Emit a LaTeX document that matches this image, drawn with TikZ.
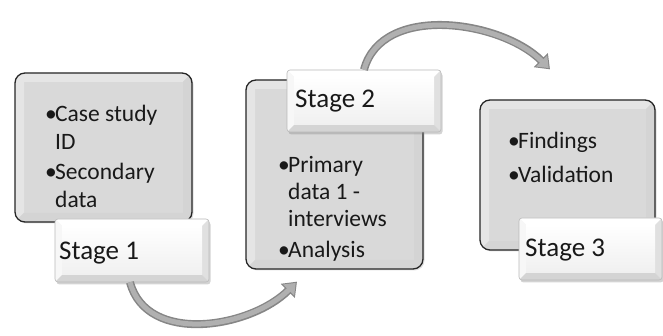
\documentclass[tikz,border=0pt]{standalone}
\usepackage{fontspec}
\setmainfont{Carlito}
\usetikzlibrary{arrows.meta,shadows,calc}

\newcommand{\bul}{\makebox[10pt][l]{•}}

\tikzset{
  panel/.style={
    draw=black!85, line width=1.3pt, rounded corners=10pt, fill=gray!30,
    drop shadow={shadow xshift=1.5pt, shadow yshift=-1.5pt, opacity=0.25},
    path picture={
      \def\bev{9pt}
      \fill[gray!20, sharp corners]
        (path picture bounding box.south west) -- (path picture bounding box.north west)
        -- (path picture bounding box.north east)
        -- ([shift={(-\bev,-\bev)}]path picture bounding box.north east)
        -- ([shift={(\bev,-\bev)}]path picture bounding box.north west)
        -- ([shift={(\bev,\bev)}]path picture bounding box.south west) -- cycle;
      \fill[gray!34, sharp corners]
        (path picture bounding box.south west) -- (path picture bounding box.south east)
        -- (path picture bounding box.north east)
        -- ([shift={(-\bev,-\bev)}]path picture bounding box.north east)
        -- ([shift={(-\bev,\bev)}]path picture bounding box.south east)
        -- ([shift={(\bev,\bev)}]path picture bounding box.south west) -- cycle;
    }},
  tag/.style={
    draw=gray!55, line width=0.6pt, rounded corners=3pt, fill=gray!12,
    drop shadow={shadow xshift=1.5pt, shadow yshift=-2.5pt, opacity=0.35},
    path picture={
      \def\bev{7pt}
      \fill[white, sharp corners]
        (path picture bounding box.north west) -- (path picture bounding box.north east)
        -- ([shift={(-\bev,-\bev)}]path picture bounding box.north east)
        -- ([shift={(\bev,-\bev)}]path picture bounding box.north west) -- cycle;
      \fill[gray!6, sharp corners]
        (path picture bounding box.north west) -- (path picture bounding box.south west)
        -- ([shift={(\bev,\bev)}]path picture bounding box.south west)
        -- ([shift={(\bev,-\bev)}]path picture bounding box.north west) -- cycle;
      \fill[gray!24, sharp corners]
        (path picture bounding box.north east) -- (path picture bounding box.south east)
        -- ([shift={(-\bev,\bev)}]path picture bounding box.south east)
        -- ([shift={(-\bev,-\bev)}]path picture bounding box.north east) -- cycle;
      \fill[gray!34, sharp corners]
        (path picture bounding box.south west) -- (path picture bounding box.south east)
        -- ([shift={(-\bev,\bev)}]path picture bounding box.south east)
        -- ([shift={(\bev,\bev)}]path picture bounding box.south west) -- cycle;
      \shade[top color=white, bottom color=gray!12, sharp corners]
        ([shift={(\bev,\bev)}]path picture bounding box.south west)
        rectangle ([shift={(-\bev,-\bev)}]path picture bounding box.north east);
    }},
  item/.style={anchor=base west, inner sep=0pt, text=black!90, font=\fontsize{23.5}{28}\selectfont},
  tagtext/.style={anchor=base west, inner sep=0pt, text=black!90, font=\fontsize{27}{32}\selectfont},
  flow/.style={draw=gray!62, line width=5pt, shorten >=1.8pt,
    -{Triangle[length=10pt,width=15pt]},
    preaction={draw=gray!95, line width=8pt, shorten >=0pt,
      -{Triangle[length=13pt,width=19pt]}}},
}

\begin{document}
\begin{tikzpicture}[x=1pt,y=1pt]
  \useasboundingbox (0,0) rectangle (663,-336);

  % three stage panels
  \node[panel, minimum width=177pt, minimum height=149pt] (b1) at (103.5,-147.5) {};
  \node[panel, minimum width=177pt, minimum height=189pt] (b2) at (334.5,-174.5) {};
  \node[panel, minimum width=175pt, minimum height=150pt] (b3) at (567.5,-175) {};

  % stage tags
  \node[tag, minimum width=154pt, minimum height=63pt] (s1) at (132,-250.5) {};
  \node[tag, minimum width=154pt, minimum height=62pt] (s2) at (364,-101) {};
  \node[tag, minimum width=143pt, minimum height=62pt] (s3) at (590.5,-249) {};

  % tag captions
  \node[tagtext] (t1) at (59,-260) {Stage 1};
  \node[tagtext] (t2) at (295,-108) {Stage 2};
  \node[tagtext] (t3) at (525,-257) {Stage 3};

  % stage 1 items
  \node[item] (i11) at (45,-122) {\bul Case study};
  \node[item] (i12) at (55,-150) {ID};
  \node[item] (i13) at (45,-180) {\bul Secondary};
  \node[item] (i14) at (55,-208) {data};

  % stage 2 items
  \node[item] (i21) at (278,-173) {\bul Primary};
  \node[item] (i22) at (288,-200) {data 1 -};
  \node[item] (i23) at (288,-227) {interviews};
  \node[item] (i24) at (278,-258) {\bul Analysis};

  % stage 3 items
  \node[item] (i31) at (508,-149) {\bul Findings};
  \node[item] (i32) at (508,-183) {\bul Validation};

  % curved flow arrows between stages
  \coordinate (e1) at ([shift={(-37.5pt,-12pt)}]b2.south);
  \coordinate (e2) at ([shift={(-17.5pt,30pt)}]b3.north);
  \draw[flow] ([xshift=-2pt]s1.south) to[out=-75, in=-135, looseness=1.0] (e1);
  \draw[flow] (s2.north) to[out=75, in=135, looseness=0.95] (e2);
\end{tikzpicture}
\end{document}
